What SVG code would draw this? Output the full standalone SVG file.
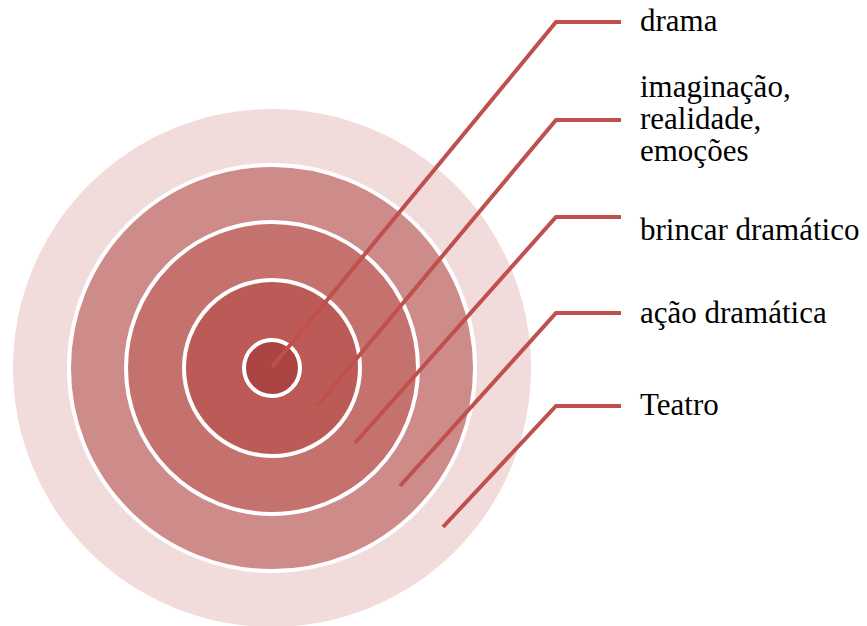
<svg xmlns="http://www.w3.org/2000/svg" width="867" height="626" viewBox="0 0 867 626">
<style>
.ring{stroke:#FFFFFF;stroke-width:4}
.conn{fill:none;stroke:#C0504D;stroke-width:4;stroke-linejoin:miter}
.lbl{font-family:"Liberation Serif","Times New Roman",serif;font-size:31px;fill:#000000}
</style>
<rect width="867" height="626" fill="#FFFFFF"/>
<g id="node-teatro-circle"><circle cx="272" cy="368" r="259" fill="#F2DCDB"/></g>
<g id="node-acao-circle"><circle class="ring" cx="272" cy="368" r="203" fill="#CD8B89"/></g>
<g id="node-brincar-circle"><circle class="ring" cx="272" cy="368" r="146" fill="#C5726F"/></g>
<g id="node-imaginacao-circle"><circle class="ring" cx="272" cy="368" r="88" fill="#BB5A57"/></g>
<g id="node-drama-circle"><circle class="ring" cx="272" cy="368" r="28" fill="#AA4542"/></g>
<g id="connectors">
<polyline class="conn" points="272,367 556,22 621,22"/>
<polyline class="conn" points="317,406 556,120 621,120"/>
<polyline class="conn" points="355,443 556,217 621,217"/>
<polyline class="conn" points="400,486 556,313 621,313"/>
<polyline class="conn" points="443,527 556,406 621,406"/>
</g>
<g id="label-drama"><text class="lbl" x="640" y="31">drama</text></g>
<g id="label-imaginacao"><text class="lbl" x="640" y="97">imaginação,<tspan x="640" y="129">realidade,</tspan><tspan x="640" y="161">emoções</tspan></text></g>
<g id="label-brincar"><text class="lbl" x="640" y="240">brincar dramático</text></g>
<g id="label-acao"><text class="lbl" x="640" y="323">ação dramática</text></g>
<g id="label-teatro"><text class="lbl" x="640" y="415">Teatro</text></g>
</svg>
